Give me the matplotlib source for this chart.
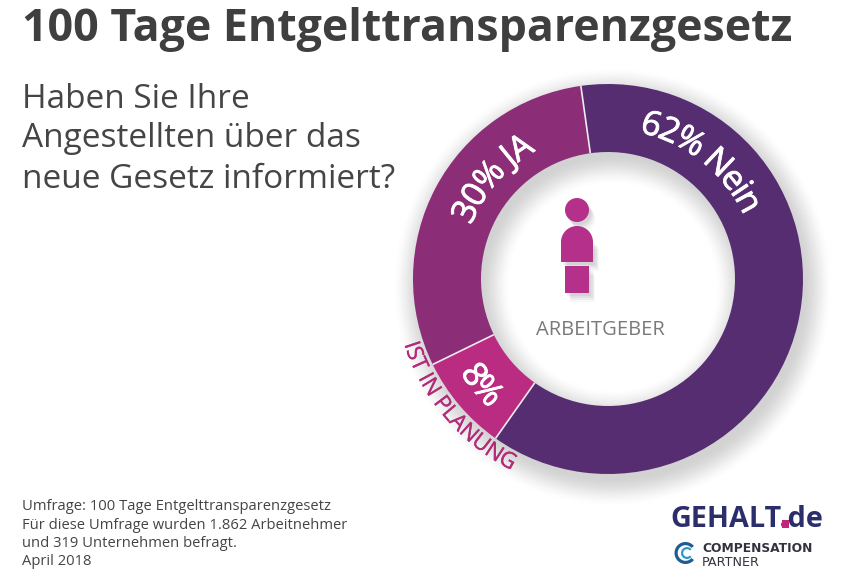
import numpy as np
import matplotlib
matplotlib.use("Agg")
import matplotlib.pyplot as plt
import matplotlib.patheffects as pe
from matplotlib.font_manager import FontProperties, findfont, get_font
from matplotlib.ft2font import LoadFlags
from matplotlib.patches import Circle, Rectangle, Wedge

title = "100 Tage Entgelttransparenzgesetz"
question = ["Haben Sie Ihre", "Angestellten über das", "neue Gesetz informiert?"]
footer = ["Umfrage: 100 Tage Entgelttransparenzgesetz",
          "Für diese Umfrage wurden 1.862 Arbeitnehmer",
          "und 319 Unternehmen befragt.",
          "April 2018"]
segments = ["JA", "Ist in Planung", "Nein"]
values = [30, 8, 62]
colors = ["#8C2D78", "#BA2C82", "#562D70"]

W, H = 855, 570
START = 98
CX, CY, R, RIN = 608, H - 279, 195, 127

fig = plt.figure(figsize=(W / 100, H / 100), dpi=100, facecolor="white")
ax = fig.add_axes([0, 0, 1, 1])

# soft shadow of ring
xx, yy = np.meshgrid(np.arange(W) + .5, np.arange(H) + .5)
d = np.hypot(xx - (CX + 4), yy - (CY - 8))
sd = np.maximum(d - R, RIN - d)
t = np.clip(1 - (sd + 6) / 32, 0, 1)
shadow = np.zeros((H, W, 4))
shadow[..., 3] = 0.18 * t * t * (3 - 2 * t)
ax.imshow(shadow, extent=(0, W, 0, H), origin="lower", zorder=0, aspect="equal")

ax.pie(values, colors=colors, startangle=START, counterclock=True, center=(CX, CY), radius=R,
       wedgeprops=dict(width=R - RIN, edgecolor="none", linewidth=0), frame=True)
ax.set_xlim(0, W)
ax.set_ylim(0, H)
ax.set_aspect("equal")
ax.axis("off")

# separators between the segments
for a in np.radians(START + np.cumsum(values) * 3.6):
    ax.plot([CX + RIN * np.cos(a), CX + R * np.cos(a)], [CY + RIN * np.sin(a), CY + R * np.sin(a)],
            color="#F1EAF1", lw=1.2, zorder=4, solid_capstyle="butt")


def Y(y):
    return H - y


def adv(ch, fam, weight):
    fp = FontProperties(family=fam, weight=weight)
    f = get_font(findfont(fp))
    f.set_size(100, 72)
    g = f.load_char(ord(ch), flags=LoadFlags.NO_HINTING)
    return g.linearHoriAdvance / 65536 / 100


def curved(s, center_deg, radius, size, color, tops_out=True, fam="Open Sans", weight="normal", z=5, track=0, bold=0.0):
    em = size * 100 / 72
    widths = [adv(c, fam, weight) * em + track for c in s]
    pos = -sum(widths) / 2
    for c, w in zip(s, widths):
        mid = pos + w / 2
        pos += w
        if tops_out:
            a = np.radians(center_deg) - mid / radius
            rot = np.degrees(a) - 90
        else:
            a = np.radians(center_deg) + mid / radius
            rot = np.degrees(a) + 90
        tx = ax.text(CX + radius * np.cos(a), CY + radius * np.sin(a), c, fontsize=size, color=color,
                     family=fam, weight=weight, rotation=rot, rotation_mode="anchor",
                     ha="center", va="baseline", zorder=z)
        if bold:
            tx.set_path_effects([pe.withStroke(linewidth=bold, foreground=color)])


curved("30% JA", 139, 147, 24.5, "white", track=-1.2, bold=0.6)
curved("62% Nein", 51.5, 150, 24.5, "white", track=-1.6, bold=0.6)
curved("8%", 220, 175, 24.5, "white", tops_out=False, track=-1.2, bold=0.6)
curved("IST IN PLANUNG", 220.5, 214, 16, "#B22A78", tops_out=False, track=0, bold=0.2)

DARK = "#3F3F3F"
ax.text(22, Y(41), title, fontsize=32.2, weight="bold", family="Open Sans", color=DARK, va="baseline", zorder=6)
for q, yb in zip(question, [108, 147, 188]):
    ax.text(22, Y(yb), q, fontsize=24, family="Open Sans", color="#454545", va="baseline", zorder=6)
for q, yb in zip(footer, [510, 529, 547, 565]):
    ax.text(22, Y(yb), q, fontsize=10.6, family="Open Sans", color="#444444", va="baseline", zorder=6)

# person icon
ICON = "#B5308A"
for dx, alpha in ((9, .03), (7, .04), (5, .05), (3, .05)):
    ax.add_patch(Circle((577 + dx * .7, Y(210 + dx)), 12, fc="k", alpha=alpha, ec="none", zorder=2))
    ax.add_patch(Rectangle((561 + dx * .7, Y(262 + dx)), 32, 22, fc="k", alpha=alpha, ec="none", zorder=2))
    ax.add_patch(Rectangle((565 + dx * .7, Y(293 + dx)), 24, 27, fc="k", alpha=alpha, ec="none", zorder=2))
ax.add_patch(Circle((577, Y(210)), 12, fc=ICON, ec="none", zorder=3))
ax.add_patch(Wedge((577, Y(242)), 16, 0, 180, fc=ICON, ec="none", zorder=3))
ax.add_patch(Rectangle((561, Y(262)), 32, 20, fc=ICON, ec="none", zorder=3))
ax.add_patch(Rectangle((565, Y(293)), 24, 27, fc=ICON, ec="none", zorder=3))
ax.text(600.5, Y(335), "ARBEITGEBER", fontsize=14.5, family="Open Sans", color="#7A7A7A", ha="center", va="baseline", zorder=6)

# logos
NAVY = "#2B2E6B"
LOGO_SIZE = 20.7
logo_em = LOGO_SIZE * 100 / 72
ax.text(670, Y(527), "GEHALT.de", fontsize=LOGO_SIZE, weight="bold", family="Open Sans", color=NAVY, va="baseline", zorder=6)
dot_mid = 670 + sum(adv(c, "Open Sans", "bold") for c in "GEHALT") * logo_em + adv(".", "Open Sans", "bold") * logo_em / 2
dot = 0.24 * logo_em
ax.add_patch(Rectangle((dot_mid - dot / 2, Y(527) - 0.5), dot, dot + 0.5, fc="#C0267C", ec="none", zorder=7))
ax.text(702, Y(552), "COMPENSATION", fontsize=8.8, weight="bold", family="DejaVu Sans", color="#333340", va="baseline", zorder=6)
ax.text(702, Y(565.5), "PARTNER", fontsize=9.2, family="DejaVu Sans", color="#333340", va="baseline", zorder=6)
LC = Y(553)
ax.add_patch(Wedge((685.5, LC), 11, 40, 320, width=3.2, fc="#1E5C92", ec="none", zorder=6))
ax.add_patch(Wedge((687, LC), 6, 40, 320, width=2.2, fc="#2A9BC4", ec="none", zorder=6))

fig.savefig("out.png", dpi=100, facecolor="white")
